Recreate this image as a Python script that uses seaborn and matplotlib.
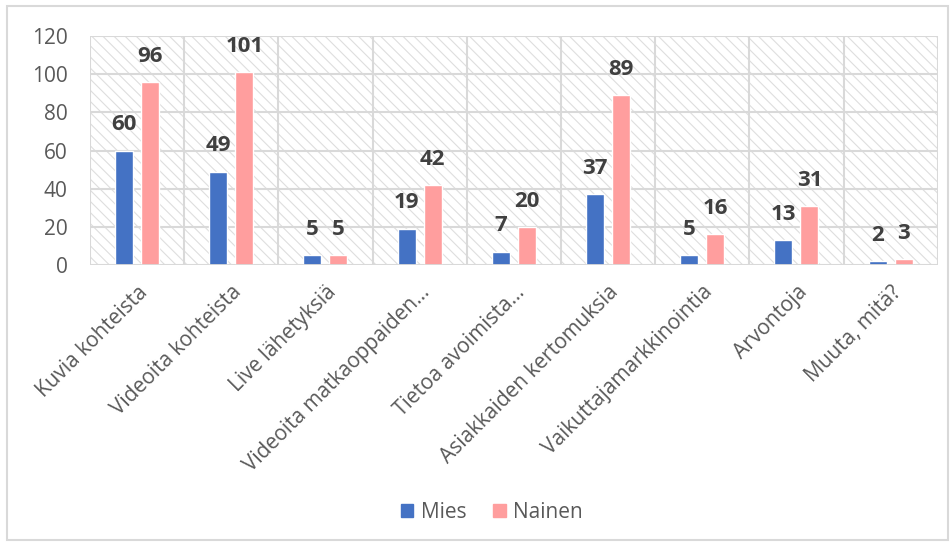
import matplotlib
matplotlib.use("Agg")
import matplotlib.pyplot as plt
import seaborn as sns
import pandas as pd
from matplotlib.patches import Rectangle

categories = [
    "Kuvia kohteista",
    "Videoita kohteista",
    "Live lähetyksiä",
    "Videoita matkaoppaiden…",
    "Tietoa avoimista…",
    "Asiakkaiden kertomuksia",
    "Vaikuttajamarkkinointia",
    "Arvontoja",
    "Muuta, mitä?",
]
mies = [60, 49, 5, 19, 7, 37, 5, 13, 2]
nainen = [96, 101, 5, 42, 20, 89, 16, 31, 3]
series = ["Mies", "Nainen"]
colors = ["#4472c4", "#ff9e9e"]
yticks = [0, 20, 40, 60, 80, 100, 120]

df = pd.DataFrame({
    "cat": categories * 2,
    "val": mies + nainen,
    "sarja": [series[0]] * len(categories) + [series[1]] * len(categories),
})

sns.set_theme(style="white")
plt.rcParams["font.family"] = ["Open Sans", "DejaVu Sans"]
plt.rcParams["hatch.color"] = "#dedede"
plt.rcParams["hatch.linewidth"] = 0.8

fig = plt.figure(figsize=(9.53, 5.47), dpi=100)
ax = fig.add_axes([0.0944, 0.5155, 0.8896, 0.4186])

# hatched plot-area background
ax.patch.set_facecolor("white")
bg = Rectangle((0, 0), 1, 1, transform=ax.transAxes, facecolor="white",
               edgecolor="#dedede", hatch="\\\\\\", linewidth=0, zorder=0)
ax.add_patch(bg)

sns.barplot(data=df, x="cat", y="val", hue="sarja", palette=colors,
            width=0.553, gap=0.31, ax=ax, zorder=3, saturation=1,
            legend=False)

ax.set_xlim(-0.5, len(categories) - 0.5)
ax.set_ylim(0, 120)
ax.set_yticks(yticks)
ax.set_yticklabels([str(t) for t in yticks], fontsize=15, color="#595959")

# gridlines
for y in yticks:
    ax.axhline(y, color="#d9d9d9", lw=1.5, zorder=1)
for i in range(len(categories) + 1):
    ax.axvline(i - 0.5, color="#d9d9d9", lw=1.5, zorder=1)
for s in ax.spines.values():
    s.set_visible(False)
ax.axhline(0, color="#d9d9d9", lw=2, zorder=4)

ax.tick_params(axis="y", length=0, pad=16)
ax.tick_params(axis="x", length=0, pad=12)
ax.set_xticks(range(len(categories)))
ax.set_xticklabels(categories, rotation=45, ha="right", rotation_mode="anchor",
                   fontsize=15, color="#595959")
ax.set_xlabel("")
ax.set_ylabel("")

# value labels
for container in ax.containers:
    ax.bar_label(container, fmt="%d", padding=11, fontsize=16,
                 fontweight="bold", color="#404040")

# legend
handles = [Rectangle((0, 0), 1, 1, color=c) for c in colors]
fig.legend(handles, series, loc="center", bbox_to_anchor=(0.516, 0.063),
           ncol=2, frameon=False, fontsize=15, handlelength=0.6,
           handleheight=0.6, handletextpad=0.35, columnspacing=1.3,
           labelcolor="#595959")

# outer chart border
fig.patches.append(Rectangle((0.007, 0.012), 0.988, 0.977, transform=fig.transFigure,
                             fill=False, edgecolor="#d9d9d9", lw=1.5))

fig.savefig("out.png", dpi=100)
